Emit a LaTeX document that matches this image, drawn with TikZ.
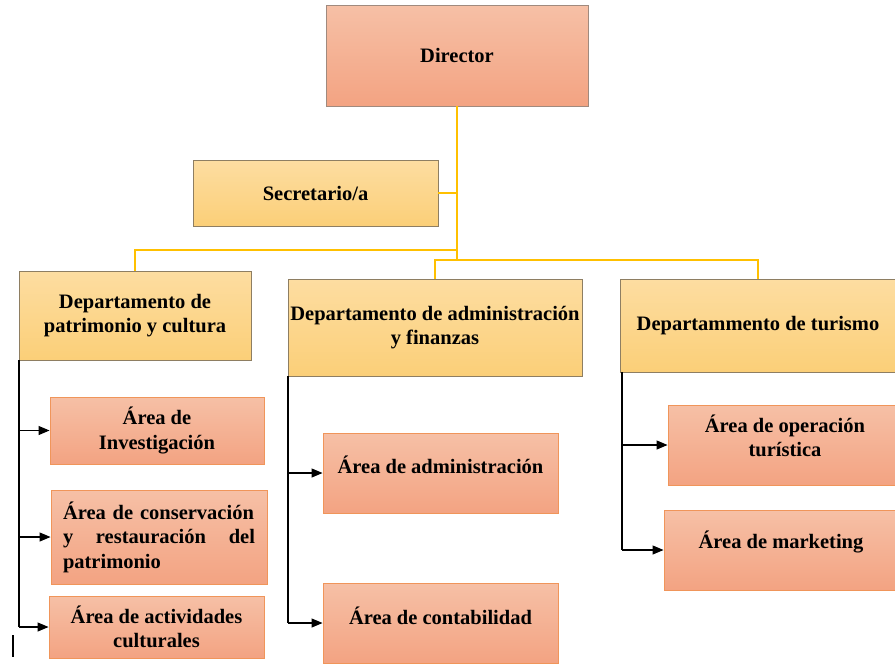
\documentclass[tikz,border=0pt]{standalone}
\usepackage{fontspec}
\setmainfont{Liberation Serif}
\usetikzlibrary{arrows.meta}
\definecolor{salTop}{HTML}{F6C0A6}
\definecolor{salBot}{HTML}{F3A382}
\definecolor{salBorder}{HTML}{F0955A}
\definecolor{dirBorder}{HTML}{A08A7E}
\definecolor{yelTop}{HTML}{FDDDA1}
\definecolor{yelBot}{HTML}{FBCF78}
\definecolor{yelBorder}{HTML}{8E7E62}
\definecolor{conn}{HTML}{FFC000}
\tikzset{
  basebox/.style={rectangle, inner sep=0pt, line width=0.9pt, font=\fontsize{20.5}{24.5}\selectfont\bfseries, align=center},
  dirbox/.style={basebox, draw=dirBorder, top color=salTop, bottom color=salBot},
  yelbox/.style={basebox, draw=yelBorder, top color=yelTop, bottom color=yelBot},
  areabox/.style={basebox, draw=salBorder, top color=salTop, bottom color=salBot},
  lbl/.style={inner sep=0pt, font=\fontsize{20.5}{24.5}\selectfont\bfseries, align=center},
  yl/.style={draw=conn, line width=2.5pt},
  bl/.style={draw=black, line width=1.1pt},
  arr/.style={draw=black, line width=1.1pt, -{Triangle[length=11pt,width=9pt]}}
}
\begin{document}
\begin{tikzpicture}[x=1pt,y=-1pt]
\useasboundingbox (0,0) rectangle (895,664);
% top level
\node[dirbox, minimum width=262pt, minimum height=101pt] (dir) at (457,55.5) {Director};
\node[yelbox, minimum width=245pt, minimum height=66pt] (sec) at (315.5,193) {Secretario/a};
% departments
\node[yelbox, minimum width=232pt, minimum height=89pt] (d1) at (135,315.5) {Departamento de\\patrimonio y cultura};
\node[yelbox, minimum width=294pt, minimum height=97pt] (d2) at (435,327.5) {Departamento de administración\\y finanzas};
\node[yelbox, minimum width=276pt, minimum height=93pt] (d3) at (758,325.5) {Departammento de turismo};
% areas, left column
\node[areabox, minimum width=214pt, minimum height=67pt] (inv) at (157,430.5) {Área de\\Investigación};
\node[areabox, minimum width=216pt, minimum height=94pt, text width=192pt, align=left] (cons) at (159,537) {\mbox{Área de conservación}\\y\hspace{\fill}restauración\hspace{\fill}del\\patrimonio};
\node[areabox, minimum width=215pt, minimum height=62pt] (act) at (156.5,627) {Área de actividades\\culturales};
% areas, middle column
\node[areabox, minimum width=235pt, minimum height=80pt] (adm) at (440.5,473) {};
\node[lbl] (admT) at (440.5,465) {Área de administración};
\node[areabox, minimum width=235pt, minimum height=80pt] (cont) at (440.5,623) {};
\node[lbl] (contT) at (440.5,616) {Área de contabilidad};
% areas, right column
\node[areabox, minimum width=234pt, minimum height=80pt] (oper) at (785,445) {};
\node[lbl] (operT) at (785,436) {Área de operación\\turística};
\node[areabox, minimum width=234pt, minimum height=80pt] (mkt) at (781,550) {};
\node[lbl] (mktT) at (781,542) {Área de marketing};
% yellow connectors
\coordinate (j1) at (457,250);
\coordinate (j2) at (457,260);
\draw[yl] (dir.south) -- (j2);
\draw[yl] (sec.east) -- (sec.east -| dir.south);
\draw[yl] (j1) -| (d1.north);
\draw[yl] (d2.north) -- (d2.north |- j2) -- (d3.north |- j2) -- (d3.north);
% black connectors
\coordinate (v1) at (19,360);
\coordinate (v2) at (288,376);
\coordinate (v3) at (622,372);
\draw[bl] (v1) -- (v1 |- act.west);
\draw[arr] (v1 |- inv.west) -- (inv.west);
\draw[arr] (v1 |- cons.west) -- (cons.west);
\draw[arr] (v1 |- act.west) -- (act.west);
\draw[bl] (v2) -- (v2 |- cont.west);
\draw[arr] (v2 |- adm.west) -- (adm.west);
\draw[arr] (v2 |- cont.west) -- (cont.west);
\draw[bl] (v3) -- (v3 |- mkt.west);
\draw[arr] (v3 |- oper.west) -- (oper.west);
\draw[arr] (v3 |- mkt.west) -- (mkt.west);
% stray mark
\coordinate (m1) at (13,635);
\coordinate (m2) at (13,657);
\draw[line width=1.8pt] (m1) -- (m2);
\end{tikzpicture}
\end{document}
